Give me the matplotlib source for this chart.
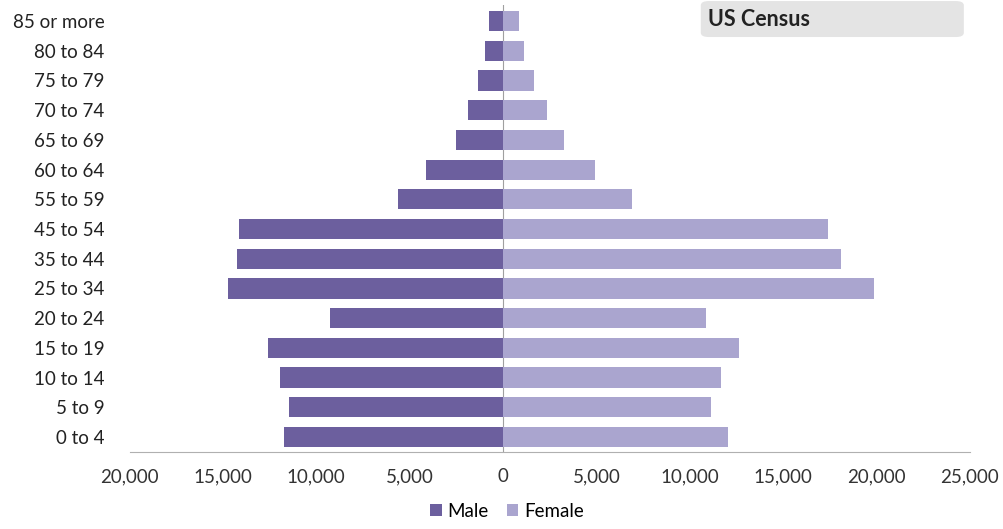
import numpy as np
import matplotlib
matplotlib.use('Agg')
import matplotlib.pyplot as plt
from matplotlib.patches import FancyBboxPatch

plt.rcParams['font.family'] = ['Lato', 'DejaVu Sans']

# Age groups, top to bottom as in the chart
age_groups = ['85 or more', '80 to 84', '75 to 79', '70 to 74', '65 to 69',
              '60 to 64', '55 to 59', '45 to 54', '35 to 44', '25 to 34',
              '20 to 24', '15 to 19', '10 to 14', '5 to 9', '0 to 4']
male = [750, 950, 1330, 1850, 2500, 4150, 5600, 14150, 14250, 14750,
        9250, 12600, 11950, 11450, 11750]
female = [850, 1100, 1650, 2350, 3250, 4950, 6900, 17400, 18100, 19850,
          10850, 12650, 11700, 11150, 12050]
xticks = [-20000, -15000, -10000, -5000, 0, 5000, 10000, 15000, 20000, 25000]

male_color = '#6c5f9e'
female_color = '#aaa5cf'

fig = plt.figure(figsize=(10.04, 5.29), dpi=100)
ax = fig.add_axes([0.129, 0.146, 0.837, 0.845])

y = np.arange(len(age_groups))[::-1]
ax.barh(y, [-m for m in male], height=0.68, color=male_color, label='Male')
ax.barh(y, female, height=0.68, color=female_color, label='Female')

ax.set_xlim(-20000, 25000)
ax.set_ylim(-0.5, len(age_groups) - 0.45)
ax.set_xticks(xticks)
ax.set_xticklabels([f'{abs(v):,}' for v in xticks], fontsize=13.5, color='#333333')
ax.set_yticks(y)
ax.set_yticklabels(age_groups, fontsize=13.5, color='#222222')
ax.tick_params(axis='y', length=0, pad=18)
ax.tick_params(axis='x', length=0, pad=12)

for side in ['top', 'right', 'left']:
    ax.spines[side].set_visible(False)
ax.spines['bottom'].set_color('#b0b0b0')
ax.axvline(0, color='#a0a0a0', linewidth=0.8, zorder=0)

# title box in the top right corner
box = FancyBboxPatch((0.698, 0.93), 0.262, 0.068, boxstyle='round,pad=0,rounding_size=0.008',
                     transform=fig.transFigure, facecolor='#e4e4e4', edgecolor='none')
fig.patches.append(box)
fig.text(0.705, 0.963, 'US Census', fontsize=15.5, fontweight='bold', color='#222222',
         va='center', ha='left')

fig.legend(loc='lower center', bbox_to_anchor=(0.505, -0.015), ncol=2, frameon=False,
           fontsize=13.5, handlelength=0.6, handleheight=0.6, handletextpad=0.3,
           columnspacing=1.0)

plt.savefig('out.png', dpi=100)
